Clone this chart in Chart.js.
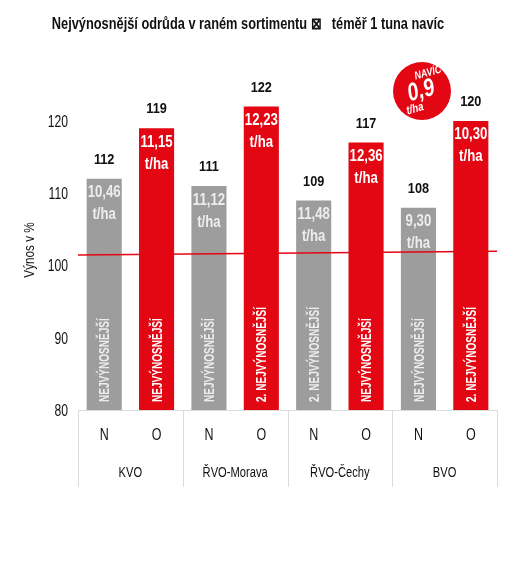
<!DOCTYPE html>
<html>
<head>
<meta charset="utf-8">
<script src="https://cdn.jsdelivr.net/npm/chart.js@4"></script>
<style>
    html, body { margin: 0; padding: 0; background: #fff; }
    #wrap { width: 507px; height: 566px; }
</style>
</head>
<body>
<div id="wrap"><canvas id="yieldChart"></canvas></div>
<script>
const varieties = ["N", "O", "N", "O", "N", "O", "N", "O"];
const regions = ["KVO", "ŘVO-Morava", "ŘVO-Čechy", "BVO"];
const yieldPct = [112, 119, 111, 122, 109, 117, 108, 120];
const yieldTons = ["10,46", "11,15", "11,12", "12,23", "11,48", "12,36", "9,30", "10,30"];
const rankLabels = ["NEJVÝNOSNĚJŠÍ", "NEJVÝNOSNĚJŠÍ", "NEJVÝNOSNĚJŠÍ", "2. NEJVÝNOSNĚJŠÍ",
    "2. NEJVÝNOSNĚJŠÍ", "NEJVÝNOSNĚJŠÍ", "NEJVÝNOSNĚJŠÍ", "2. NEJVÝNOSNĚJŠÍ"];
const avgLine = [101.45, 101.95];
const yTicks = [80, 90, 100, 110, 120];
const titleText = "Nejvýnosnější odrůda v raném sortimentu ⊠   téměř 1 tuna navíc";
const yTitle = "Výnos v %";

const FONT = "'Liberation Sans', Arial, sans-serif";
const RED = "#e30613";
const GREY = "#9d9d9d";
const INK = "#111";

const barColors = varieties.map(v => v === "N" ? GREY : RED);

// no condensed face is installed, so squeeze the text horizontally
function narrowText(ctx, text, x, y, font, sx, rot, align) {
    ctx.save();
    ctx.translate(x, y);
    if (rot) ctx.rotate(rot);
    ctx.scale(sx, 1);
    ctx.font = font;
    ctx.textAlign = align || "center";
    ctx.textBaseline = "middle";
    ctx.fillText(text, 0, 0);
    ctx.restore();
}

const barText = {
    id: "barText",
    afterDatasetsDraw(chart) {
        const ctx = chart.ctx;
        const meta = chart.getDatasetMeta(0);
        const bottom = chart.chartArea.bottom;
        ctx.save();
        meta.data.forEach((bar, i) => {
            const light = varieties[i] === "N" ? "#ededed" : "#ffffff";
            ctx.fillStyle = INK;
            narrowText(ctx, String(yieldPct[i]), bar.x, bar.y - 19, "bold 15.5px " + FONT, 0.82);

            ctx.fillStyle = light;
            narrowText(ctx, yieldTons[i], bar.x, bar.y + 14, "bold 16.5px " + FONT, 0.8);
            narrowText(ctx, "t/ha", bar.x, bar.y + 36, "bold 16.5px " + FONT, 0.8);
            narrowText(ctx, rankLabels[i], bar.x + 1, bottom - 8, "bold 15px " + FONT, 0.67, -Math.PI / 2, "left");
        });
        ctx.restore();
    },
    afterDraw(chart) {
        const ctx = chart.ctx;
        const area = chart.chartArea;
        const sx = chart.scales.x;
        const sx2 = chart.scales.x2;
        const sy = chart.scales.y;
        const w = (area.right - area.left) / regions.length;
        ctx.save();

        // title
        ctx.fillStyle = INK;
        narrowText(ctx, titleText, 248, 25, "bold 16px " + FONT, 0.8);

        // axis texts
        yTicks.forEach(v => {
            narrowText(ctx, String(v), 68, sy.getPixelForValue(v) + 1.5, "16px " + FONT, 0.76, 0, "right");
        });
        narrowText(ctx, yTitle, 30, 250, "15px " + FONT, 0.78, -Math.PI / 2);
        varieties.forEach((v, i) => {
            narrowText(ctx, v, sx.getPixelForTick(i), 436, "16px " + FONT, 0.78);
        });
        regions.forEach((r, i) => {
            narrowText(ctx, r, sx2.getPixelForTick(i), 473, "15.5px " + FONT, 0.72);
        });

        // group separators
        ctx.strokeStyle = "#dcdcdc";
        ctx.lineWidth = 1;
        ctx.beginPath();
        ctx.moveTo(area.left, area.bottom + 0.5);
        ctx.lineTo(area.right, area.bottom + 0.5);
        for (let i = 0; i <= regions.length; i++) {
            const x = Math.round(area.left + i * w) + 0.5;
            ctx.moveTo(x, area.bottom);
            ctx.lineTo(x, area.bottom + 77);
        }
        ctx.stroke();

        // "navíc" badge
        ctx.fillStyle = RED;
        ctx.beginPath();
        ctx.arc(422, 91, 29, 0, Math.PI * 2);
        ctx.fill();
        ctx.fillStyle = "#fff";
        const rot = -0.26;
        narrowText(ctx, "NAVÍC", 428, 73, "bold italic 11px " + FONT, 0.82, rot);
        narrowText(ctx, "0,9", 421, 91, "bold italic 25px " + FONT, 0.78, rot);
        narrowText(ctx, "t/ha", 415, 109, "bold italic 12px " + FONT, 0.82, rot);
        ctx.restore();
    }
};

new Chart(document.getElementById("yieldChart"), {
    data: {
        labels: varieties,
        datasets: [{
            type: "bar",
            xAxisID: "x",
            data: yieldPct,
            backgroundColor: barColors,
            categoryPercentage: 1,
            barPercentage: 0.67,
            grouped: false,
            order: 1
        }, {
            type: "line",
            xAxisID: "xl",
            data: [{ x: 0, y: avgLine[0] }, { x: 1, y: avgLine[1] }],
            borderColor: RED,
            borderWidth: 1.5,
            pointRadius: 0,
            order: 0
        }]
    },
    options: {
        responsive: true,
        maintainAspectRatio: false,
        animation: false,
        layout: { padding: { left: 0, right: 10, top: 92, bottom: 71 } },
        plugins: {
            legend: { display: false },
            tooltip: { enabled: false },
            title: { display: false }
        },
        scales: {
            x: {
                type: "category",
                position: "bottom",
                weight: 1,
                grid: { display: false },
                border: { display: false },
                ticks: { display: false },
                afterFit: s => { s.height = 45; }
            },
            x2: {
                type: "category",
                labels: regions,
                position: "bottom",
                weight: 2,
                offset: true,
                grid: { display: false },
                border: { display: false },
                ticks: { display: false },
                afterFit: s => { s.height = 40; }
            },
            xl: {
                type: "linear",
                display: false,
                min: 0,
                max: 1
            },
            y: {
                min: 80,
                max: 124,
                grid: { display: false },
                border: { display: false },
                afterBuildTicks: s => { s.ticks = yTicks.map(v => ({ value: v })); },
                ticks: { display: false },
                afterFit: s => { s.width = 78; }
            }
        }
    },
    plugins: [barText]
});
</script>
</body>
</html>
